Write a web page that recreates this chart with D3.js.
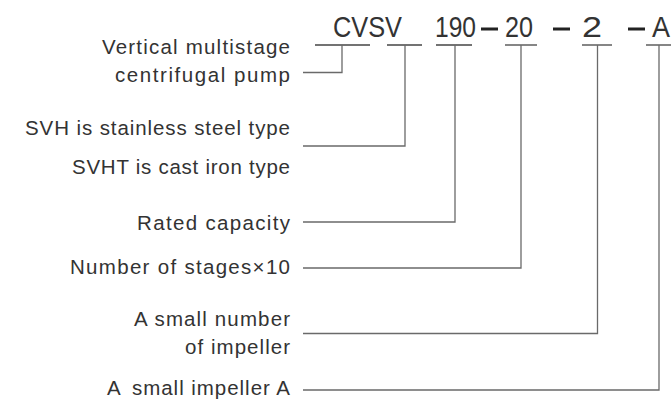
<!DOCTYPE html>
<html><head><meta charset="utf-8">
<script src="https://cdn.jsdelivr.net/npm/d3@7"></script>
<style>html,body{margin:0;padding:0;background:#fff;}</style>
</head><body>
<script>
// ---- content ----
const codeParts = ["CVSV", "190", "20", "2", "A"];
const labelLines = [
  ["Vertical multistage", "centrifugal pump"],
  ["SVH is stainless steel type"],
  ["SVHT is cast iron type"],
  ["Rated capacity"],
  ["Number of stages×10"],
  ["A small number", "of impeller"],
  ["A", "small impeller A"]
];

// ---- layout ----
const W = 671, H = 404;
const svg = d3.select("body").append("svg").attr("width", W).attr("height", H);
const textCol = "#333", lineCol = "#6a6a6a";
const font = "'Liberation Sans Narrow', 'Liberation Sans', Arial, sans-serif";

// code title
const codeLayout = [
  {x0: 333, x1: 402}, {x0: 435, x1: 476}, {x0: 505, x1: 533}, {x0: 582, x1: 602}, {x0: 652, x1: 670}
];
const titleBase = 36.5;
codeParts.forEach((t, i) => {
  const L = codeLayout[i];
  svg.append("text").attr("x", L.x0).attr("y", titleBase)
    .attr("font-family", font).attr("font-size", 30).attr("fill", textCol)
    .attr("textLength", L.x1 - L.x0).attr("lengthAdjust", "spacingAndGlyphs")
    .text(t);
});
// dashes between code parts
const dashes = [{x0: 481, x1: 498}, {x0: 553, x1: 570}, {x0: 628, x1: 645}];
svg.selectAll("rect.dash").data(dashes).join("rect").attr("class", "dash")
  .attr("x", d => d.x0).attr("y", 27.5).attr("width", d => d.x1 - d.x0).attr("height", 3)
  .attr("fill", "#222");

// leaders: underline bar, vertical drop, horizontal to labels
const barY = 45, leftX = 303;
const leaders = [
  {b0: 315, b1: 370, vx: 342, y: 72.5},
  {b0: 387, b1: 422, vx: 405, y: 146},
  {b0: 436, b1: 472, vx: 455, y: 222},
  {b0: 505, b1: 537, vx: 521, y: 268},
  {b0: 582, b1: 612, vx: 597.5, y: 333.5},
  {b0: 646, b1: 672, vx: 659, y: 390}
];
const g = svg.append("g").attr("fill", "none").attr("stroke", lineCol).attr("stroke-width", 1.3);
leaders.forEach(d => {
  g.append("line").attr("x1", d.b0).attr("x2", d.b1).attr("y1", barY).attr("y2", barY).attr("stroke", "#444");
  g.append("path").attr("d", `M${d.vx},${barY}V${d.y}H${leftX}`);
});

// labels
const labelLayout = [
  [{y: 53.5, x0: 102}, {y: 81.5, x0: 115}],
  [{y: 135, x0: 25}],
  [{y: 173.5, x0: 72}],
  [{y: 229.5, x0: 137}],
  [{y: 274, x0: 70}],
  [{y: 325.5, x0: 134}, {y: 353.5, x0: 185}],
  [{y: 395, x0: 107, x1: 119}, {y: 395, x0: 132}]
];
const labelRight = 290;
labelLines.forEach((lines, i) => {
  lines.forEach((t, j) => {
    const L = labelLayout[i][j];
    const x1 = L.x1 !== undefined ? L.x1 : labelRight;
    svg.append("text").attr("x", L.x0).attr("y", L.y)
      .attr("font-family", font).attr("font-size", 20.5).attr("fill", textCol)
      .attr("textLength", x1 - L.x0).attr("lengthAdjust", "spacing")
      .text(t);
  });
});
</script>
</body></html>
